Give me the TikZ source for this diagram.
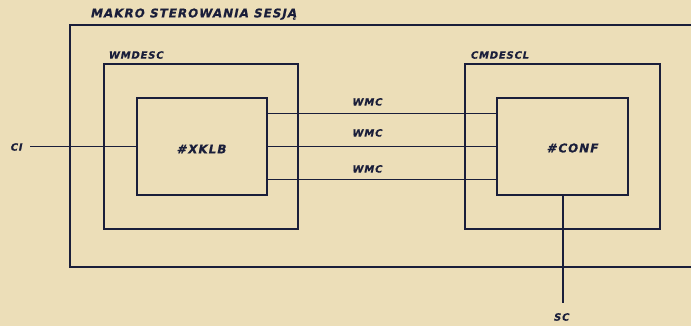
\documentclass[tikz,border=0pt]{standalone}
\usepackage{fontspec}
\setmainfont{DejaVu Sans}
\newfontfamily\plate[LetterSpace=8,FakeSlant=0.2,FakeBold=0.6]{DejaVu Sans Bold}
\usetikzlibrary{positioning}
\definecolor{ink}{RGB}{26,30,58}
\definecolor{paper}{RGB}{236,222,184}

\begin{document}
\begin{tikzpicture}[x=1pt,y=-1pt]
\tikzstyle{box}= [draw=ink, line width=2pt, inner sep=0pt]
\tikzstyle{lab}= [inner sep=0pt, text=ink, font=\plate\fontsize{10}{10}\selectfont]
\tikzstyle{big}= [lab, font=\plate\fontsize{12}{12}\selectfont]
\tikzstyle{wire}= [draw=ink, line width=1.6pt]
\fill[paper] (0,0) rectangle (691,326);
\useasboundingbox (0,0) rectangle (691,326);
%outer macro
\coordinate (otl) at (691,25);
\coordinate (oa) at (70,25);
\coordinate (ob) at (70,267);
\coordinate (obr) at (691,267);
\draw[box] (otl) -- (oa) -- (ob) -- (obr);
\node[big, anchor=south west] (makro) at (90,20) {MAKRO STEROWANIA SESJĄ};
%left
\node[box, minimum width=194pt, minimum height=165pt] (wmdesc) at (201,146.5) {};
\node[box, minimum width=130pt, minimum height=96pt] (xklb) at (201.5,146.5) {};
\node[big] (xklbt) at (201,149) {\#XKLB};
\node[lab, anchor=south west] (wmdesct) at (108,59) {WMDESC};
%right
\node[box, minimum width=195pt, minimum height=165pt] (cmdescl) at (562.5,146.5) {};
\node[box, minimum width=131pt, minimum height=96pt] (conf) at (562.5,146.5) {};
\node[big] (conft) at (572,148) {\#CONF};
\node[lab, anchor=south west] (cmdesclt) at (470,59) {CMDESCL};
%links
\draw[wire] ([yshift=-33pt]xklb.east) -- ([yshift=-33pt]conf.west) node[lab, midway, above=6pt, xshift=-15pt] (w1) {WMC};
\draw[wire] (xklb.east) -- (conf.west) node[lab, midway, above=9pt, xshift=-15pt] (w2) {WMC};
\draw[wire] ([yshift=33pt]xklb.east) -- ([yshift=33pt]conf.west) node[lab, midway, above=7pt, xshift=-15pt] (w3) {WMC};
%ci, sc
\coordinate (cie) at (30,146.5);
\node[lab, anchor=east] (ci) at (22,147) {CI};
\draw[wire] (cie) -- (xklb.west);
\coordinate (sce) at (563,303);
\node[lab] (sc) at (561,317) {SC};
\draw[wire] (conf.south -| sce) -- (sce);
\end{tikzpicture}
\end{document}
